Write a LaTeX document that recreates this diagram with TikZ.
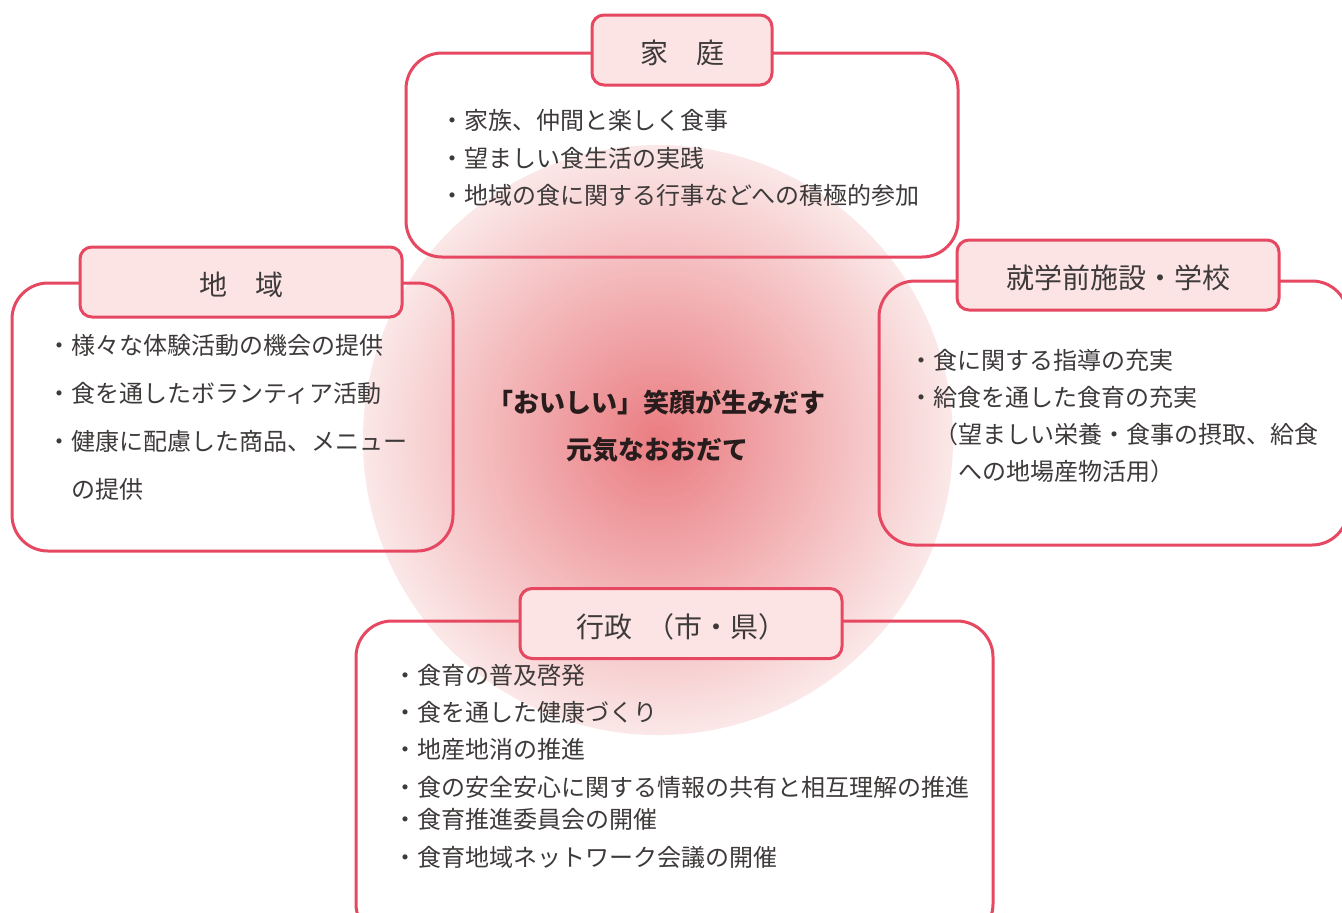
\documentclass[tikz,border=0pt]{standalone}
\usepackage{fontspec}
\newfontfamily\jp{Noto Sans CJK JP}
\definecolor{bord}{RGB}{230,72,98}
\definecolor{tabfill}{RGB}{252,228,229}
\definecolor{gin}{RGB}{234,124,129}
\definecolor{gout}{RGB}{251,231,231}
\definecolor{txt}{RGB}{62,58,58}
\definecolor{ctxt}{RGB}{40,28,28}
\tikzset{
  bodybox/.style={draw=bord, line width=1.5pt, rounded corners=18pt, inner sep=0pt},
  tabbox/.style={draw=bord, fill=tabfill, line width=1.5pt, rounded corners=6pt, inner sep=0pt,
    minimum height=35pt, text height=14.5pt, text depth=0.7pt, text=txt, font=\jp\fontsize{14pt}{16pt}\selectfont},
  item/.style={anchor=west, inner sep=0pt, text=txt, font=\jp\fontsize{12pt}{14pt}\selectfont},
  center/.style={inner sep=0pt, text=ctxt, font=\jp\bfseries\fontsize{13pt}{15pt}\selectfont}
}
\begin{document}
\begin{tikzpicture}[x=0.5pt,y=-0.5pt]
\useasboundingbox (0,0) rectangle (1342,912);
\clip (0,0) rectangle (1342,912);
\fill[white] (0,0) rectangle (1342,912);
% radial gradient disc
\foreach \i in {0,...,79}{
  \pgfmathsetmacro\p{100*(1-\i/80)}
  \pgfmathsetmacro\r{147.5*(1-\i/80)}
  \colorlet{ring}{gout!\p!gin}
  \fill[ring] (658,440) circle[radius=\r pt];
}
% body boxes
\node[bodybox, minimum width=276pt, minimum height=102pt] (homebody) at (682,155) {};
\node[bodybox, minimum width=220.5pt, minimum height=134pt] (areabody) at (232.5,417) {};
\node[bodybox, minimum width=234.5pt, minimum height=132pt] (schoolbody) at (1113.5,413) {};
\node[bodybox, minimum width=318.5pt, minimum height=159.5pt] (govbody) at (674.5,780.5) {};
% tabs
\node[tabbox, minimum width=90pt] (hometab) at (682,50) {家　庭};
\node[tabbox, minimum width=161pt] (areatab) at (241,282) {地　域};
\node[tabbox, minimum width=161pt] (schooltab) at (1118,275) {就学前施設・学校};
\node[tabbox, minimum width=161pt] (govtab) at (681,623.5) {行政\hspace{0.5em}（市・県）};
% home items
\node[item] (h1) at (440,120) {・家族、仲間と楽しく食事};
\node[item] (h2) at (440,158) {・望ましい食生活の実践};
\node[item] (h3) at (440,195) {・地域の食に関する行事などへの積極的参加};
% area items
\node[item] (a1) at (47,345) {・様々な体験活動の機会の提供};
\node[item] (a2) at (47,393) {・食を通したボランティア活動};
\node[item] (a3) at (47,441) {・健康に配慮した商品、メニュー};
\node[item] (a4) at (71,489) {の提供};
% school items
\node[item] (s1) at (909,360) {・食に関する指導の充実};
\node[item] (s2) at (909,397) {・給食を通した食育の充実};
\node[item] (s3) at (934,434) {（望ましい栄養・食事の摂取、給食};
\node[item] (s4) at (958,471) {への地場産物活用）};
% government items
\node[item] (g1) at (393,675) {・食育の普及啓発};
\node[item] (g2) at (393,712) {・食を通した健康づくり};
\node[item] (g3) at (393,749) {・地産地消の推進};
\node[item] (g4) at (393,787) {・食の安全安心に関する情報の共有と相互理解の推進};
\node[item] (g5) at (393,819) {・食育推進委員会の開催};
\node[item] (g6) at (393,857) {・食育地域ネットワーク会議の開催};
% center slogan
\node[center] (slogan1) at (656,402) {「おいしい」笑顔が生みだす};
\node[center] (slogan2) at (657,450) {元気なおおだて};
\end{tikzpicture}
\end{document}
